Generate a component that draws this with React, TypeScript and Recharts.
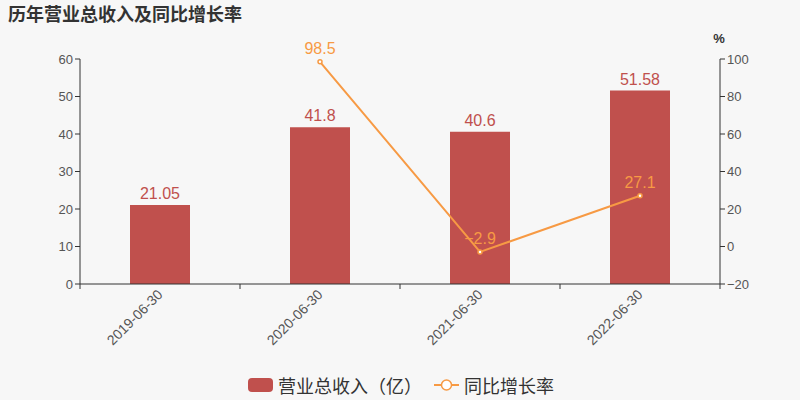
import React from "react";
import {
  Bar,
  ComposedChart,
  LabelList,
  Line,
  XAxis,
  YAxis,
} from "recharts";

const periods = ["2019-06-30", "2020-06-30", "2021-06-30", "2022-06-30"];
const revenue = [21.05, 41.8, 40.6, 51.58];
const growth: (number | null)[] = [null, 98.5, -2.9, 27.1];
const leftTicks = [0, 10, 20, 30, 40, 50, 60];
const rightTicks = [-20, 0, 20, 40, 60, 80, 100];

const BAR = "#c0504d";
const LINE = "#f79a44";
const AXIS = "#333";
const TEXT = "#555";
const FONT = '"Liberation Sans", Arial, sans-serif';
const CJK = '"Noto Sans CJK SC", "Liberation Sans", sans-serif';

const data = periods.map((p, i) => ({
  period: p,
  revenue: revenue[i],
  growth: growth[i],
}));

const minus = (v: any) => (v == null ? "" : String(v).replace("-", "\u2212"));

function PeriodTick(props: any) {
  const { x, y, payload, index, visibleTicksCount } = props;
  const half = payload.offset ?? 0;
  const last = index === (visibleTicksCount ?? periods.length) - 1;
  const top = y - 8;
  return (
    <g>
      <line x1={x - half} x2={x - half} y1={top} y2={top + 5} stroke={AXIS} />
      {last && (
        <line x1={x + half} x2={x + half} y1={top} y2={top + 5} stroke={AXIS} />
      )}
      <text
        x={x}
        y={y}
        dy="0.35em"
        textAnchor="end"
        fontSize={14}
        fontFamily={FONT}
        fill={TEXT}
        transform={`rotate(-45, ${x}, ${y})`}
      >
        {payload.value}
      </text>
    </g>
  );
}

export default function App() {
  return (
    <div
      style={{
        position: "fixed",
        left: 0,
        top: 0,
        width: 800,
        height: 400,
        background: "#f7f7f7",
      }}
    >
      <div
        style={{
          position: "absolute",
          left: 8,
          top: 0,
          fontFamily: CJK,
          fontWeight: "bold",
          fontSize: 18,
          color: "#333",
        }}
      >
        历年营业总收入及同比增长率
      </div>
      <ComposedChart
        width={800}
        height={400}
        data={data}
        margin={{ top: 59, right: 40, bottom: 56, left: 40 }}
      >
        <XAxis
          dataKey="period"
          xAxisId={0}
          height={60}
          stroke={AXIS}
          tickLine={false}
          tickSize={0}
          tickMargin={8}
          interval={0}
          tick={<PeriodTick />}
        />
        <YAxis
          yAxisId="left"
          width={40}
          domain={[0, 60]}
          ticks={leftTicks}
          stroke={AXIS}
          tickSize={5}
          tick={{ fill: TEXT, fontSize: 13, fontFamily: FONT }}
        />
        <YAxis
          yAxisId="right"
          orientation="right"
          width={40}
          domain={[-20, 100]}
          ticks={rightTicks}
          stroke={AXIS}
          tickSize={5}
          tickFormatter={minus}
          tick={{ fill: TEXT, fontSize: 13, fontFamily: FONT }}
          label={{
            value: "%",
            position: "top",
            dx: -21,
            dy: -11,
            fill: "#333",
            fontSize: 13,
            fontFamily: FONT,
            fontWeight: "bold",
          }}
        />
        <Bar
          yAxisId="left"
          dataKey="revenue"
          fill={BAR}
          barSize={60}
          isAnimationActive={false}
        >
          <LabelList
            dataKey="revenue"
            position="top"
            fill={BAR}
            fontSize={16}
            fontFamily={FONT}
            offset={6}
          />
        </Bar>
        <Line
          yAxisId="right"
          dataKey="growth"
          stroke={LINE}
          strokeWidth={2}
          dot={{ r: 2, fill: "#fff", stroke: LINE, strokeWidth: 1.5 }}
          activeDot={false}
          isAnimationActive={false}
        />
        {/* labels drawn on top of the line */}
        <Line
          yAxisId="right"
          dataKey="growth"
          stroke="none"
          dot={false}
          activeDot={false}
          legendType="none"
          isAnimationActive={false}
        >
          <LabelList
            dataKey="growth"
            position="top"
            formatter={minus}
            fill={LINE}
            fontSize={16}
            fontFamily={FONT}
            offset={8}
          />
        </Line>
      </ComposedChart>
      <div
        style={{
          position: "absolute",
          left: 248,
          top: 374,
          display: "flex",
          alignItems: "center",
          fontFamily: CJK,
          fontSize: 18,
          color: "#333",
          lineHeight: "22px",
        }}
      >
        <span
          style={{
            display: "inline-block",
            width: 25,
            height: 14,
            borderRadius: 4,
            background: BAR,
            marginRight: 5,
          }}
        />
        <span>营业总收入（亿）</span>
        <svg width={25} height={14} style={{ marginLeft: 12, marginRight: 5 }}>
          <line x1={0} x2={25} y1={7} y2={7} stroke={LINE} strokeWidth={2} />
          <circle cx={12.5} cy={7} r={5} fill="#fff" stroke={LINE} strokeWidth={1.5} />
        </svg>
        <span>同比增长率</span>
      </div>
    </div>
  );
}
